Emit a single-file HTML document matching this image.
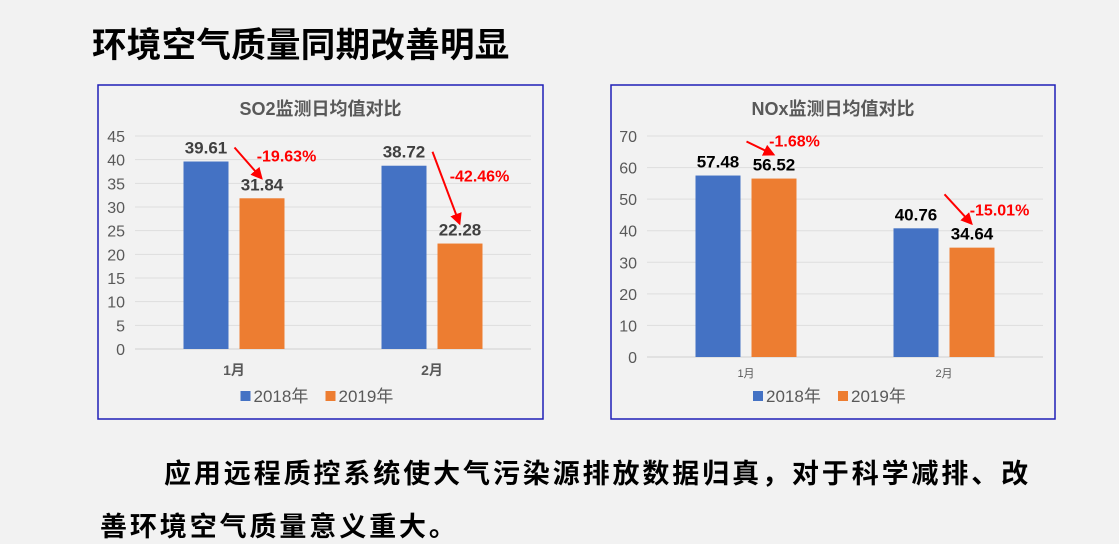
<!DOCTYPE html>
<html><head><meta charset="utf-8">
<style>
body{margin:0;width:1119px;height:543px;background:#f2f2f2;overflow:hidden;position:relative;font-family:"Liberation Sans","Noto Sans CJK SC",sans-serif;}
.t{position:absolute;font-weight:bold;color:#000;white-space:nowrap;}
svg{position:absolute;left:0;top:0;}
</style></head><body>
<div class="t" style="left:92px;top:17px;font-size:34.5px;letter-spacing:0.3px;">环境空气质量同期改善明显</div>
<div class="t" style="left:164px;top:452px;font-size:27px;letter-spacing:2.9px;">应用远程质控系统使大气污染源排放数据归真，对于科学减排、改</div>
<div class="t" style="left:100px;top:505px;font-size:27px;letter-spacing:2.9px;">善环境空气质量意义重大。</div>
<svg id="svg" width="1119" height="543"></svg>
<script>
const categories=["1月","2月"];
const so2_2018=[39.61,38.72];
const so2_2019=[31.84,22.28];
const so2Changes=["-19.63%","-42.46%"];
const so2Ticks=[0,5,10,15,20,25,30,35,40,45];
const nox_2018=[57.48,40.76];
const nox_2019=[56.52,34.64];
const noxChanges=["-1.68%","-15.01%"];
const noxTicks=[0,10,20,30,40,50,60,70];
const seriesNames=["2018年","2019年"];

const NS="http://www.w3.org/2000/svg";
const svg=document.getElementById('svg');
function mk(tag,attrs,parent){const e=document.createElementNS(NS,tag);for(const k in attrs)e.setAttribute(k,attrs[k]);(parent||svg).appendChild(e);return e;}
const defs=mk('defs',{});
const mkr=mk('marker',{id:'ah',markerWidth:6,markerHeight:6,refX:5,refY:3,orient:'auto',markerUnits:'strokeWidth'},defs);
mk('path',{d:'M0,0 L6,3 L0,6 z',fill:'#ff0000'},mkr);

function chart(o){
  const g=mk('g',{});
  
  
  const box=mk('rect',{x:o.bx,y:o.by,width:o.bw,height:o.bh,fill:'#f2f2f2',stroke:'#1f1fb8','stroke-width':1.5},g);
  
  
  const title=mk('text',{x:o.bx+o.bw/2,y:o.by+30,'text-anchor':'middle','font-size':18,'font-weight':'bold',fill:'#595959'},g);
  title.textContent=o.title;
  
  
  const max=o.ticks[o.ticks.length-1];
  const y=v=>o.y0-(v/max)*(o.y0-o.yTop);
  o.ticks.forEach(t=>{
    const l=mk('line',{x1:o.x0,x2:o.x1,y1:y(t),y2:y(t),stroke:t===0?'#d0d0d0':'#dedede','stroke-width':1},g);
    
    
    const tx=mk('text',{x:o.x0-10,y:y(t)+6,'text-anchor':'end','font-size':16,fill:'#595959'},g);
    tx.textContent=t;
    
    
  });
  const cw=(o.x1-o.x0)/categories.length;
  const bw=45,gap=11;
  categories.forEach((c,i)=>{
    const cx=o.x0+cw*(i+0.5);
    const bxs=[cx-gap/2-bw,cx+gap/2];
    const vals=[o.a[i],o.b[i]];
    const cols=['#4472c4','#ed7d31'];
    vals.forEach((v,j)=>{
      const r=mk('rect',{x:bxs[j],y:y(v),width:bw,height:o.y0-y(v),fill:cols[j]},g);
      
      
      const lb=mk('text',{x:bxs[j]+bw/2,y:y(v)-8-(o.lift?o.lift[j]:0),'text-anchor':'middle','font-size':17,'font-weight':'bold',fill:o.lblColor},g);
      lb.textContent=v.toFixed(2);
      
      
    });
    // arrow from blue label to orange label
    const ax1=bxs[0]+bw+6, ay1=y(vals[0])-o.arrowStart;
    const ax2=bxs[1]+22, ay2=y(vals[1])-o.arrowEnd;
    const ar=mk('line',{x1:ax1,y1:ay1,x2:ax2,y2:ay2,stroke:'#ff0000','stroke-width':2,'marker-end':'url(#ah)'},g);
    
    
    const pt=mk('text',{x:o.pctX(i,bxs),y:o.pctY(i,vals,y),'font-size':16,'font-weight':'bold',fill:'#ff0000','text-anchor':'middle'},g);
    pt.textContent=o.changes[i];
    
    
    const cl=mk('text',{x:cx,y:o.y0+o.catDy,'text-anchor':'middle','font-size':o.catSize,'font-weight':o.catBold?'bold':'normal',fill:'#595959'},g);
    cl.textContent=c;
    
    
  });
  const lx=o.bx+o.bw/2-80, ly=o.by+316;
  ['#4472c4','#ed7d31'].forEach((col,j)=>{
    const sw=mk('rect',{x:lx+j*85,y:ly-10,width:10,height:10,fill:col},g);
    
    
    const lt=mk('text',{x:lx+j*85+13,y:ly+1,'font-size':17,fill:'#595959'},g);
    lt.textContent=seriesNames[j];
    
    
  });
}
chart({name:'so2-chart',title:'SO2监测日均值对比',bx:98,by:85,bw:445,bh:334,x0:135,x1:531,y0:349,yTop:136,ticks:so2Ticks,a:so2_2018,b:so2_2019,changes:so2Changes,lblColor:'#404040',catDy:26,catSize:14,catBold:true,
  arrowStart:14,arrowEnd:20,
  pctX:(i,b)=>i===0?b[1]+47:b[1]+42, pctY:(i,v,y)=>i===0?y(v[0])+0:y(v[0])+16});
chart({name:'nox-chart',title:'NOx监测日均值对比',bx:611,by:85,bw:444,bh:334,x0:647,x1:1043,y0:357,yTop:136,ticks:noxTicks,a:nox_2018,b:nox_2019,changes:noxChanges,lblColor:'#000',catDy:20,catSize:11,catBold:false,
  arrowStart:34,arrowEnd:24,
  pctX:(i,b)=>i===0?b[1]+43:b[1]+50, pctY:(i,v,y)=>y(v[1])-32});
</script>
</body></html>
